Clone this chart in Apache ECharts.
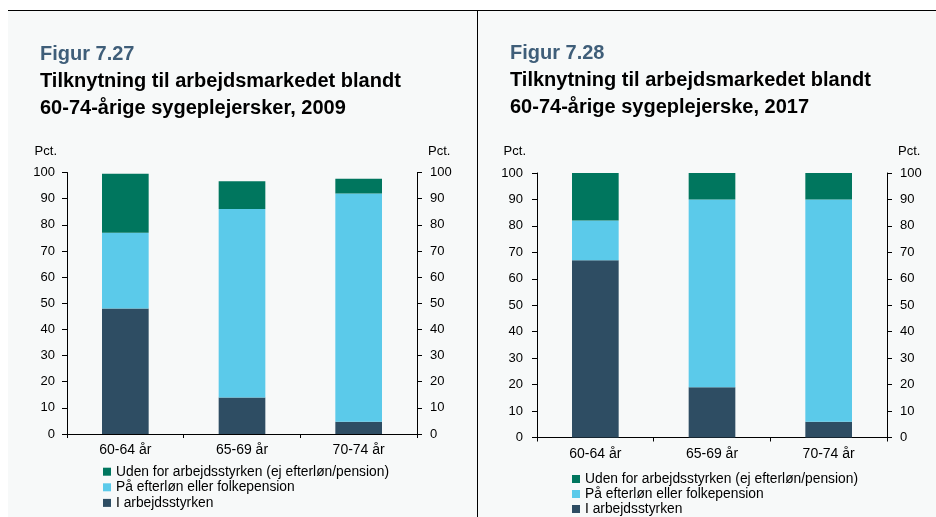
<!DOCTYPE html>
<html>
<head>
<meta charset="utf-8">
<script src="https://cdn.jsdelivr.net/npm/echarts@6/dist/echarts.min.js"></script>
<style>
  html, body { margin: 0; padding: 0; background: #ffffff; }
  #chart { width: 936px; height: 517px; }
</style>
</head>
<body>
<div id="chart"></div>
<script>
// Age groups on the category axis
const categories = ['60-64 år', '65-69 år', '70-74 år'];

// Series names (legend order: top segment first)
const nameOutside = 'Uden for arbejdsstyrken (ej efterløn/pension)';
const namePension = 'På efterløn eller folkepension';
const nameWork = 'I arbejdsstyrken';

// 2009 shares, pct.
const work2009 = [48, 14, 4.7];
const pension2009 = [29, 72, 87.3];
const outside2009 = [22.5, 10.7, 5.6];

// 2017 shares, pct.
const work2017 = [67, 19, 6];
const pension2017 = [15, 71, 84];
const outside2017 = [18, 10, 10];

// Value-axis ticks
const yMin = 0, yMax = 100, yStep = 10;

const FONT = "'Liberation Sans', Arial, sans-serif";
const C_WORK = '#2e4d63';
const C_PENSION = '#5bcaea';
const C_OUTSIDE = '#00765e';
const PANEL_BG = '#f7f9f9';

const chart = echarts.init(document.getElementById('chart'), null, { renderer: 'canvas' });

function yAxes(gridIndex, leftMargin, rightMargin, leftNamePad) {
  const common = {
    type: 'value', gridIndex, min: yMin, max: yMax, interval: yStep,
    splitLine: { show: false },
    axisLine: { show: true, lineStyle: { color: '#000', width: 1 } },
    axisTick: { show: true, inside: false, length: 5, lineStyle: { color: '#000' } },
    name: 'Pct.', nameLocation: 'end', nameGap: 15,
    nameTextStyle: { color: '#000', fontFamily: FONT, fontSize: 13 }
  };
  return [
    Object.assign({}, common, {
      position: 'left',
      axisLabel: { color: '#000', fontFamily: FONT, fontSize: 13, margin: leftMargin },
      nameTextStyle: Object.assign({}, common.nameTextStyle, { align: 'right', padding: [0, leftNamePad, 0, 0] })
    }),
    Object.assign({}, common, {
      position: 'right',
      axisLabel: { color: '#000', fontFamily: FONT, fontSize: 13, margin: rightMargin },
      nameTextStyle: Object.assign({}, common.nameTextStyle, { align: 'left', padding: [0, 0, 0, 11] })
    })
  ];
}

function xAxis(gridIndex, margin) {
  return {
    type: 'category', gridIndex, data: categories, boundaryGap: true,
    axisLine: { show: true, lineStyle: { color: '#000', width: 1 } },
    axisTick: { show: true, length: 4, lineStyle: { color: '#000' } },
    axisLabel: { color: '#000', fontFamily: FONT, fontSize: 14, margin }
  };
}

function barSeries(name, data, color, idx, stack) {
  return {
    type: 'bar', name, data, stack,
    xAxisIndex: idx, yAxisIndex: idx * 2,
    barWidth: '40%',
    itemStyle: { color },
    emphasis: { disabled: true }
  };
}

function legend(left, top, gap) {
  return {
    orient: 'vertical', left, top, padding: 0, height: 60,
    icon: 'rect', itemWidth: 8, itemHeight: 8, itemGap: gap,
    data: [nameOutside, namePension, nameWork],
    textStyle: { color: '#000', fontFamily: FONT, fontSize: 13.8, lineHeight: 14 },
    selectedMode: false
  };
}

function title(left, top, fig, line1, line2) {
  return {
    left, top, padding: 0,
    text: '{f|' + fig + '}\n{t|' + line1 + '}\n{t|' + line2 + '}',
    textStyle: {
      rich: {
        f: { fontFamily: FONT, fontSize: 20, fontWeight: 'bold', color: '#3f5e79', lineHeight: 28 },
        t: { fontFamily: FONT, fontSize: 20, fontWeight: 'bold', color: '#000', lineHeight: 27 }
      }
    }
  };
}

chart.setOption({
  animation: false,
  backgroundColor: '#ffffff',
  graphic: [
    { type: 'rect', shape: { x: 8, y: 10, width: 470, height: 507 }, style: { fill: PANEL_BG }, z: -10 },
    { type: 'rect', shape: { x: 478, y: 10, width: 458, height: 507 }, style: { fill: PANEL_BG }, z: -10 },
    { type: 'line', shape: { x1: 8, y1: 10.5, x2: 936, y2: 10.5 }, style: { stroke: '#000', lineWidth: 1 }, z: -5 },
    { type: 'line', shape: { x1: 477.5, y1: 10, x2: 477.5, y2: 517 }, style: { stroke: '#000', lineWidth: 1 }, z: -5 }
  ],
  title: [
    title(40, 40, 'Figur 7.27', 'Tilknytning til arbejdsmarkedet blandt', '60-74-årige sygeplejersker, 2009'),
    title(510, 39, 'Figur 7.28', 'Tilknytning til arbejdsmarkedet blandt', '60-74-årige sygeplejerske, 2017')
  ],
  legend: [legend(103, 464.7, 1.6), legend(572, 472, 1)],
  grid: [
    { left: 67, right: 519, top: 172.5, bottom: 83, containLabel: false },
    { left: 537, right: 49, top: 173, bottom: 79.5, containLabel: false }
  ],
  xAxis: [xAxis(0, 9), xAxis(1, 10)],
  yAxis: yAxes(0, 12, 13, 10).concat(yAxes(1, 14, 13, 11)),
  series: [
    barSeries(nameWork, work2009, C_WORK, 0, 's2009'),
    barSeries(namePension, pension2009, C_PENSION, 0, 's2009'),
    barSeries(nameOutside, outside2009, C_OUTSIDE, 0, 's2009'),
    barSeries(nameWork, work2017, C_WORK, 1, 's2017'),
    barSeries(namePension, pension2017, C_PENSION, 1, 's2017'),
    barSeries(nameOutside, outside2017, C_OUTSIDE, 1, 's2017')
  ]
});
</script>
</body>
</html>
